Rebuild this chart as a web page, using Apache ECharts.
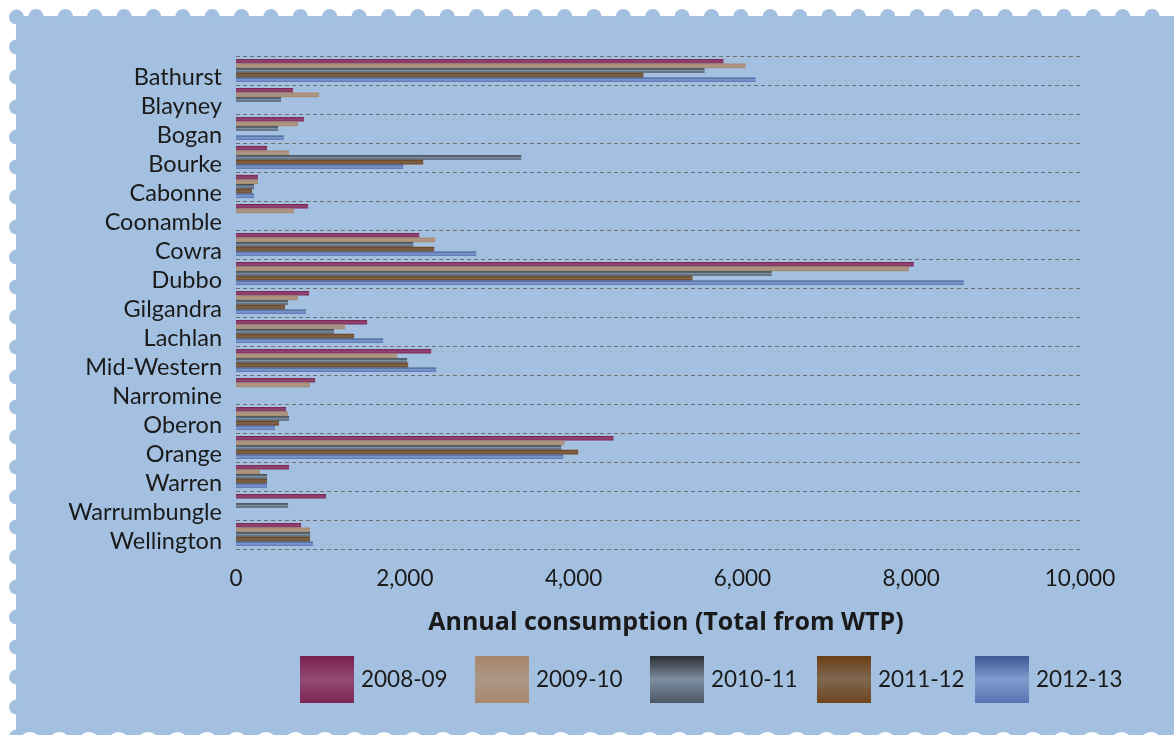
<!DOCTYPE html>
<html>
<head>
<meta charset="utf-8">
<title>Annual consumption (Total from WTP)</title>
<script src="https://cdn.jsdelivr.net/npm/echarts@6/dist/echarts.min.js"></script>
<style>
  html, body { margin: 0; padding: 0; background: #ffffff; }
  #chart { width: 1174px; height: 735px; }
</style>
</head>
<body>
<div id="chart"></div>
<script>
// Councils, top to bottom
const councils = ['Bathurst', 'Blayney', 'Bogan', 'Bourke', 'Cabonne', 'Coonamble', 'Cowra', 'Dubbo',
  'Gilgandra', 'Lachlan', 'Mid-Western', 'Narromine', 'Oberon', 'Orange', 'Warren', 'Warrumbungle', 'Wellington'];

// Annual consumption per financial year (null = not reported)
const y2008_09 = [5777, 676, 807, 368, 261, 854, 2171, 8031, 866, 1554, 2313, 937, 593, 4472, 629, 1068, 771];
const y2009_10 = [6038, 985, 735, 629, 261, 688, 2361, 7972, 735, 1293, 1910, 878, 617, 3891, 285, null, 878];
const y2010_11 = [5552, 534, 498, 3381, 214, null, 2100, 6346, 617, 1162, 2028, null, 629, 3855, 368, 617, 878];
const y2011_12 = [4828, null, null, 2218, 190, null, 2349, 5409, 581, 1400, 2040, null, 510, 4055, 368, null, 878];
const y2012_13 = [6157, null, 569, 1981, 214, null, 2847, 8624, 830, 1744, 2372, null, 463, 3879, 368, null, 913];

const years = ['2008-09', '2009-10', '2010-11', '2011-12', '2012-13'];
const yearValues = [y2008_09, y2009_10, y2010_11, y2011_12, y2012_13];

// Axis ticks
const xTicks = [0, 2000, 4000, 6000, 8000, 10000];

// Shaded fills: dark edge, lighter centre
const shades = [
  ['#7a1e4e', '#914b74', '#7b2753'],
  ['#a8856b', '#ab9887', '#a8876d'],
  ['#2b2f34', '#7c8da1', '#4d5864'],
  ['#6c3f16', '#7e6751', '#70451d'],
  ['#3d5896', '#819ccd', '#5a73b2']
];
function shade(c) {
  return new echarts.graphic.LinearGradient(0, 0, 0, 1, [
    { offset: 0, color: c[0] },
    { offset: 0.5, color: c[1] },
    { offset: 1, color: c[2] }
  ]);
}

const FONT = 'Lato, "Open Sans", sans-serif';
const TITLE_FONT = '"Open Sans", Lato, sans-serif';
const PANEL = '#a3c0e0';

// Perforated stamp-style panel behind the chart
const deco = [];
deco.push({ type: 'rect', shape: { x: 16, y: 16, width: 1200, height: 719 }, style: { fill: PANEL }, z: -10 });
for (let k = 0; k <= 38; k++) {
  deco.push({ type: 'circle', shape: { cx: 36 + k * 29.37, cy: 16.5, r: 7.5 }, style: { fill: PANEL }, z: -10 });
}
for (let k = 0; k <= 24; k++) {
  deco.push({ type: 'circle', shape: { cx: 16.5, cy: 17 + k * 30, r: 7.5 }, style: { fill: PANEL }, z: -10 });
}
for (let k = 0; k <= 40; k++) {
  deco.push({ type: 'circle', shape: { cx: 30 + k * 29.5, cy: 743, r: 11 }, style: { fill: '#ffffff' }, z: -9 });
}

// One legend block per year, laid out along the bottom
const legendX = [300, 475, 650, 817, 975];
const legends = years.map((y, i) => ({
  data: [y],
  left: legendX[i],
  top: 656,
  padding: 0,
  itemWidth: 54,
  itemHeight: 47,
  icon: 'rect',
  selectedMode: false,
  textStyle: { fontFamily: FONT, fontSize: 22.5, color: '#1a1a1a', padding: [0, 0, 0, 2] }
}));

const series = years.map((y, i) => ({
  name: y,
  type: 'bar',
  data: yearValues[i],
  barGap: '0%',
  barCategoryGap: '20%',
  itemStyle: { color: shade(shades[i]) }
}));

const chart = echarts.init(document.getElementById('chart'), null, { renderer: 'canvas' });
chart.setOption({
  animation: false,
  backgroundColor: 'transparent',
  graphic: deco,
  legend: legends,
  grid: { left: 236, right: 94, top: 56, bottom: 186, containLabel: false },
  xAxis: {
    type: 'value',
    min: xTicks[0],
    max: xTicks[xTicks.length - 1],
    interval: xTicks[1] - xTicks[0],
    name: 'Annual consumption (Total from WTP)',
    nameLocation: 'middle',
    nameGap: 61,
    nameTextStyle: { fontFamily: TITLE_FONT, fontSize: 25, fontWeight: 'bold', color: '#1a1a1a', padding: [0, 0, 0, 16] },
    axisLine: { show: false },
    axisTick: { show: false },
    splitLine: { show: false },
    axisLabel: {
      fontFamily: FONT, fontSize: 22.5, color: '#1a1a1a', margin: 18,
      formatter: v => v.toLocaleString('en-US')
    }
  },
  yAxis: {
    type: 'category',
    data: councils,
    inverse: true,
    axisLine: { show: false },
    axisTick: { show: false },
    axisLabel: {
      interval: 0, fontFamily: FONT, fontSize: 23.5, color: '#1a1a1a', margin: 14,
      verticalAlign: 'top', lineHeight: 13
    },
    splitLine: { show: true, interval: 0, lineStyle: { color: '#6f6f6f', width: 1, type: [4, 3] } }
  },
  series: series
});
</script>
</body>
</html>
